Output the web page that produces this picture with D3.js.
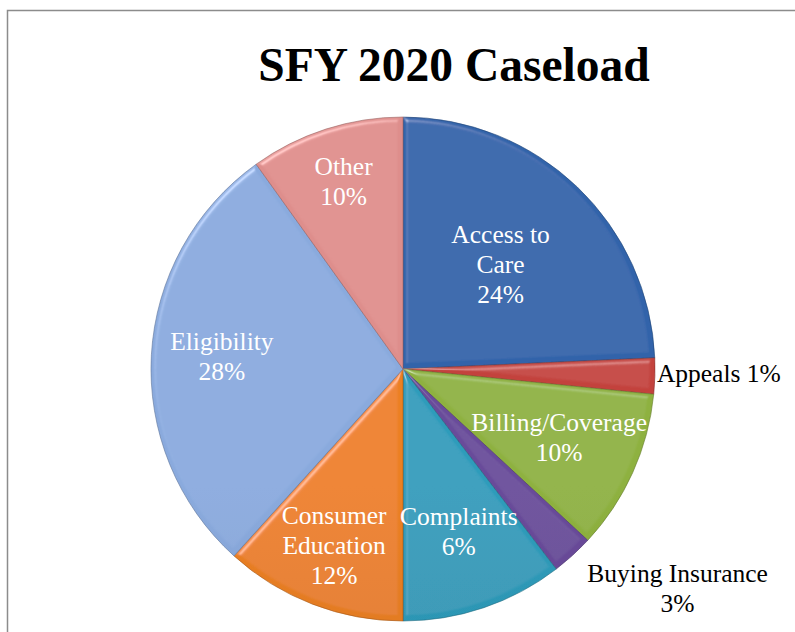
<!DOCTYPE html>
<html>
<head>
<meta charset="utf-8">
<title>SFY 2020 Caseload</title>
<script src="https://d3js.org/d3.v7.min.js"></script>
<style>
  body { margin: 0; background: #fff; }
  svg text { font-family: "Liberation Serif", "Times New Roman", serif; }
</style>
</head>
<body>
<div id="chart"></div>
<script>
// slice sizes (degrees -> share), labels as printed
var categories = ["Access to Care", "Appeals", "Billing/Coverage", "Buying Insurance",
                  "Complaints", "Consumer Education", "Eligibility", "Other"];
var shares = [24.3, 2.3, 10.3, 2.7, 10.4, 11.7, 28.4, 9.9];
var labelLines = [
  ["Access to", "Care", "24%"],
  ["Appeals 1%"],
  ["Billing/Coverage", "10%"],
  ["Buying Insurance", "3%"],
  ["Complaints", "6%"],
  ["Consumer", "Education", "12%"],
  ["Eligibility", "28%"],
  ["Other", "10%"]
];
var colors = ["#2e5fa3", "#bb403b", "#88aa3c", "#654894", "#2c95b3", "#e27b22", "#84a3d4", "#d58886"];

var width = 795, height = 632;
var cx = 403, cy = 369, radius = 252;

var svg = d3.select("#chart").append("svg")
  .attr("width", width).attr("height", height);

// frame of the chart area
svg.append("rect")
  .attr("x", 7.5).attr("y", 10.5)
  .attr("width", width).attr("height", height)
  .attr("fill", "none").attr("stroke", "#8c8c8c").attr("stroke-width", 1.5);

svg.append("text")
  .attr("x", 454).attr("y", 81)
  .attr("text-anchor", "middle")
  .style("font-size", "47.5px").style("font-weight", "bold")
  .text("SFY 2020 Caseload");

var defs = svg.append("defs");

// bevel look: highlight only on edges facing the light
var bevel = defs.append("filter").attr("id", "bevel")
  .attr("x", "-5%").attr("y", "-5%").attr("width", "110%").attr("height", "110%");
bevel.append("feGaussianBlur").attr("in", "SourceAlpha").attr("stdDeviation", 2.5).attr("result", "blur");
bevel.append("feSpecularLighting").attr("in", "blur").attr("surfaceScale", 4)
  .attr("specularConstant", 0.7).attr("specularExponent", 22)
  .attr("lighting-color", "#ffffff").attr("result", "spec")
  .append("feDistantLight").attr("azimuth", 235).attr("elevation", 35);
bevel.append("feComposite").attr("in", "spec").attr("in2", "SourceAlpha")
  .attr("operator", "in").attr("result", "specOut");
bevel.append("feComposite").attr("in", "SourceGraphic").attr("in2", "specOut")
  .attr("operator", "arithmetic").attr("k1", 0).attr("k2", 1).attr("k3", 0.45).attr("k4", 0);

colors.forEach(function (c, i) {
  var g = defs.append("linearGradient").attr("id", "grad" + i)
    .attr("gradientUnits", "userSpaceOnUse")
    .attr("x1", 0).attr("y1", cy - radius).attr("x2", 0).attr("y2", cy + radius);
  g.append("stop").attr("offset", "0%").attr("stop-color", d3.color(c).brighter(0.12));
  g.append("stop").attr("offset", "100%").attr("stop-color", d3.color(c).darker(0.3));
});

var pie = d3.pie().sort(null).value(function (d) { return d; });
var arcs = pie(shares);
var arc = d3.arc().innerRadius(0).outerRadius(radius);

var g = svg.append("g").attr("transform", "translate(" + cx + "," + cy + ")");

g.selectAll("path.slice")
  .data(arcs)
  .enter().append("path")
  .attr("class", "slice")
  .attr("d", arc)
  .attr("fill", function (d, i) { return "url(#grad" + i + ")"; })
  .attr("stroke", function (d, i) { return d3.color(colors[i]).darker(0.9); })
  .attr("stroke-width", 0.6)
  .attr("filter", "url(#bevel)");

// label placement: fraction of radius along the mid angle, plus nudges for outside labels
var labelRadius = [0.56, 1.0, 0.68, 1.0, 0.69, 0.76, 0.72, 0.77];
var labelNudge = [[0, 0], [2, 0], [0, 0], [105, 36], [0, 0], [0, 0], [0, 0], [0, 0]];
var outside = [false, true, false, true, false, false, false, false];
var lineH = 30;

arcs.forEach(function (d, i) {
  var a = (d.startAngle + d.endAngle) / 2;
  var r = radius * labelRadius[i];
  var x = Math.sin(a) * r + labelNudge[i][0];
  var y = -Math.cos(a) * r + labelNudge[i][1];
  var lines = labelLines[i];
  var t = g.append("text")
    .attr("text-anchor", i === 1 ? "start" : "middle")
    .attr("fill", outside[i] ? "#000" : "#fff")
    .style("font-size", "25.5px");
  lines.forEach(function (s, k) {
    t.append("tspan")
      .attr("x", x)
      .attr("y", y + (k - (lines.length - 1) / 2) * lineH + 6)
      .text(s);
  });
});
</script>
</body>
</html>
